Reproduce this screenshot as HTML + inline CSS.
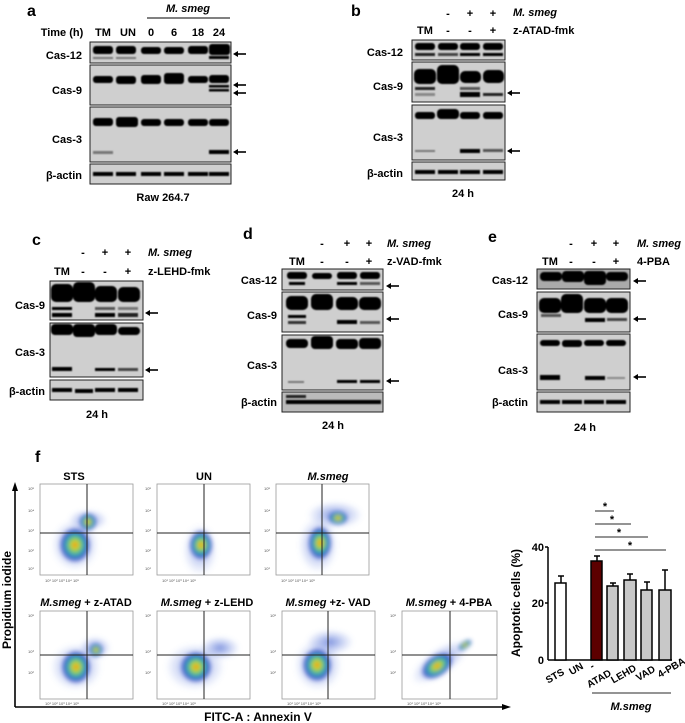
<!DOCTYPE html>
<html><head><meta charset="utf-8"><style>
body{margin:0;background:#fff}
svg{display:block;font-family:"Liberation Sans",Arial,sans-serif}
.l{font-weight:bold;font-size:11px}
.h{font-weight:bold;font-size:16px}
.i{font-style:italic;font-weight:bold;font-size:11px}
.t{font-size:4px;fill:#555}
.bx{font-weight:bold;font-size:10px}
</style></head><body>
<svg width="685" height="723" viewBox="0 0 685 723" xmlns="http://www.w3.org/2000/svg">
<defs>
<filter id="bl" x="-20%" y="-50%" width="140%" height="200%"><feGaussianBlur stdDeviation="0.9"/></filter>
<filter id="fb" x="-50%" y="-50%" width="200%" height="200%"><feGaussianBlur stdDeviation="2"/></filter>
<radialGradient id="rg"><stop offset="0" stop-color="#e02818"/><stop offset="0.15" stop-color="#f0d020"/><stop offset="0.35" stop-color="#80d050"/><stop offset="0.55" stop-color="#30a8c0"/><stop offset="0.78" stop-color="#2038b8" stop-opacity=".8"/><stop offset="1" stop-color="#3050d0" stop-opacity="0"/></radialGradient>
<radialGradient id="rb"><stop offset="0" stop-color="#2848c8" stop-opacity=".6"/><stop offset="1" stop-color="#6080e0" stop-opacity="0"/></radialGradient>
<g id="ar"><line x1="3" y1="0" x2="13" y2="0" stroke="#000" stroke-width="1.6"/><polygon points="0,0 5,-3 5,3" fill="#000"/></g>
</defs>

<!-- Panel a -->
<text x="27" y="16" class="h">a</text>
<text x="188" y="12" class="i" text-anchor="middle">M. smeg</text>
<line x1="147" y1="18" x2="230" y2="18" stroke="#000"/>
<g class="l" text-anchor="middle"><text x="62" y="36">Time (h)</text><text x="103" y="36">TM</text><text x="128" y="36">UN</text><text x="151" y="36">0</text><text x="174" y="36">6</text><text x="198" y="36">18</text><text x="219" y="36">24</text></g>
<g class="l" text-anchor="end"><text x="82" y="59">Cas-12</text><text x="82" y="94">Cas-9</text><text x="82" y="143">Cas-3</text><text x="82" y="179">β-actin</text></g>
<g fill="#cfcfcf" stroke="#222"><rect x="90" y="42" width="141" height="21"/><rect x="90" y="65" width="141" height="40"/><rect x="90" y="107" width="141" height="55"/><rect x="90" y="164" width="141" height="20"/></g>
<g filter="url(#bl)" fill="#000">
<rect x="93" y="46" width="20" height="8" rx="3"/><rect x="116" y="46" width="20" height="8" rx="3"/><rect x="141" y="47" width="20" height="7" rx="3"/><rect x="164" y="47" width="20" height="7" rx="3"/><rect x="188" y="46" width="20" height="8" rx="3"/><rect x="209" y="44" width="21" height="11" rx="3"/>
<rect x="93" y="57" width="20" height="2" fill="#777"/><rect x="116" y="57" width="20" height="2" fill="#777"/><rect x="209" y="56" width="20" height="3"/>
<rect x="93" y="76" width="20" height="7" rx="3"/><rect x="116" y="76" width="20" height="8" rx="3"/><rect x="141" y="75" width="20" height="9" rx="3"/><rect x="164" y="73" width="20" height="11" rx="3"/><rect x="188" y="76" width="20" height="7" rx="3"/><rect x="209" y="75" width="20" height="8" rx="3"/>
<rect x="209" y="85" width="20" height="2.5"/><rect x="209" y="89" width="20" height="2.5"/>
<rect x="93" y="118" width="20" height="8" rx="3"/><rect x="116" y="117" width="22" height="10" rx="3"/><rect x="141" y="119" width="20" height="7" rx="3"/><rect x="164" y="119" width="20" height="7" rx="3"/><rect x="188" y="119" width="20" height="7" rx="3"/><rect x="209" y="119" width="20" height="7" rx="3"/>
<rect x="93" y="151" width="20" height="3" fill="#777"/><rect x="209" y="150" width="20" height="4"/>
<rect x="93" y="172" width="20" height="4"/><rect x="116" y="172" width="20" height="4"/><rect x="141" y="172" width="20" height="4"/><rect x="164" y="172" width="20" height="4"/><rect x="188" y="172" width="20" height="4"/><rect x="209" y="172" width="20" height="4"/>
</g>
<use href="#ar" x="233" y="54"/><use href="#ar" x="233" y="85"/><use href="#ar" x="233" y="93"/><use href="#ar" x="233" y="152"/>
<text x="163" y="201" class="l" text-anchor="middle">Raw 264.7</text>

<!-- Panel b -->
<text x="351" y="16" class="h">b</text>
<g class="l" text-anchor="middle"><text x="448" y="17">-</text><text x="470" y="17">+</text><text x="493" y="17">+</text><text x="425" y="34">TM</text><text x="448" y="34">-</text><text x="470" y="34">-</text><text x="493" y="34">+</text></g>
<text x="513" y="16" class="i">M. smeg</text><text x="513" y="34" class="l">z-ATAD-fmk</text>
<g class="l" text-anchor="end"><text x="403" y="56">Cas-12</text><text x="403" y="90">Cas-9</text><text x="403" y="141">Cas-3</text><text x="403" y="177">β-actin</text></g>
<g fill="#cfcfcf" stroke="#222"><rect x="412" y="40" width="93" height="20"/><rect x="412" y="62" width="93" height="40"/><rect x="412" y="105" width="93" height="55"/><rect x="412" y="162" width="93" height="18"/></g>
<g filter="url(#bl)" fill="#000">
<rect x="415" y="43" width="20" height="7" rx="3"/><rect x="438" y="43" width="20" height="7" rx="3"/><rect x="460" y="43" width="20" height="7" rx="3"/><rect x="483" y="43" width="20" height="7" rx="3"/>
<rect x="415" y="53" width="20" height="3" fill="#222"/><rect x="438" y="53" width="20" height="3" fill="#444"/><rect x="460" y="53" width="20" height="3"/><rect x="483" y="53" width="20" height="3"/>
<rect x="414" y="69" width="22" height="15" rx="5"/><rect x="437" y="65" width="22" height="19" rx="5"/><rect x="460" y="71" width="21" height="12" rx="5"/><rect x="483" y="70" width="21" height="13" rx="5"/>
<rect x="415" y="87" width="20" height="3" fill="#222"/><rect x="460" y="87" width="20" height="3" fill="#555"/><rect x="415" y="93" width="20" height="3" fill="#888"/><rect x="460" y="92" width="20" height="5"/><rect x="483" y="93" width="20" height="3" fill="#222"/>
<rect x="415" y="112" width="20" height="7" rx="3"/><rect x="437" y="109" width="22" height="10" rx="4"/><rect x="460" y="112" width="20" height="7" rx="3"/><rect x="483" y="112" width="20" height="7" rx="3"/>
<rect x="415" y="150" width="20" height="2" fill="#777"/><rect x="460" y="149" width="20" height="4"/><rect x="483" y="149" width="20" height="3" fill="#555"/>
<rect x="415" y="170" width="20" height="4"/><rect x="438" y="170" width="20" height="4"/><rect x="460" y="170" width="20" height="4"/><rect x="483" y="170" width="20" height="4"/>
</g>
<use href="#ar" x="507" y="93"/><use href="#ar" x="507" y="151"/>
<text x="463" y="197" class="l" text-anchor="middle">24 h</text>

<!-- Panel c -->
<text x="32" y="245" class="h">c</text>
<g class="l" text-anchor="middle"><text x="83" y="256">-</text><text x="105" y="256">+</text><text x="128" y="256">+</text><text x="62" y="275">TM</text><text x="83" y="275">-</text><text x="105" y="275">-</text><text x="128" y="275">+</text></g>
<text x="148" y="256" class="i">M. smeg</text><text x="148" y="275" class="l">z-LEHD-fmk</text>
<g class="l" text-anchor="end"><text x="45" y="309">Cas-9</text><text x="45" y="356">Cas-3</text><text x="45" y="395">β-actin</text></g>
<g fill="#cfcfcf" stroke="#222"><rect x="50" y="281" width="93" height="39"/><rect x="50" y="323" width="93" height="54"/><rect x="50" y="380" width="93" height="20"/></g>
<g filter="url(#bl)" fill="#000">
<rect x="51" y="284" width="22" height="18" rx="5"/><rect x="73" y="282" width="22" height="20" rx="5"/><rect x="95" y="286" width="22" height="16" rx="5"/><rect x="118" y="287" width="22" height="15" rx="5"/>
<rect x="52" y="307" width="20" height="3"/><rect x="95" y="307" width="20" height="3" fill="#555"/><rect x="118" y="307" width="20" height="3" fill="#777"/>
<rect x="52" y="313" width="20" height="4"/><rect x="95" y="313" width="20" height="4"/><rect x="118" y="313" width="20" height="4" fill="#222"/>
<rect x="51" y="324" width="22" height="11" rx="4"/><rect x="73" y="324" width="22" height="13" rx="4"/><rect x="95" y="324" width="22" height="11" rx="4"/><rect x="118" y="327" width="22" height="8" rx="4"/>
<rect x="52" y="367" width="20" height="4"/><rect x="95" y="368" width="20" height="3"/><rect x="118" y="368" width="20" height="3" fill="#444"/>
<rect x="52" y="388" width="20" height="4"/><rect x="75" y="389" width="18" height="4"/><rect x="95" y="388" width="20" height="4"/><rect x="118" y="388" width="20" height="4"/>
</g>
<use href="#ar" x="145" y="313"/><use href="#ar" x="145" y="370"/>
<text x="97" y="418" class="l" text-anchor="middle">24 h</text>

<!-- Panel d -->
<text x="243" y="239" class="h">d</text>
<g class="l" text-anchor="middle"><text x="322" y="247">-</text><text x="347" y="247">+</text><text x="369" y="247">+</text><text x="297" y="265">TM</text><text x="322" y="265">-</text><text x="347" y="265">-</text><text x="369" y="265">+</text></g>
<text x="387" y="247" class="i">M. smeg</text><text x="387" y="265" class="l">z-VAD-fmk</text>
<g class="l" text-anchor="end"><text x="277" y="284">Cas-12</text><text x="277" y="319">Cas-9</text><text x="277" y="369">Cas-3</text><text x="277" y="406">β-actin</text></g>
<g fill="#cfcfcf" stroke="#222"><rect x="282" y="269" width="101" height="21"/><rect x="282" y="292" width="101" height="40"/><rect x="282" y="335" width="101" height="55"/><rect x="282" y="392" width="101" height="20" fill="#bbb"/></g>
<g filter="url(#bl)" fill="#000">
<rect x="287" y="272" width="20" height="7" rx="3"/><rect x="312" y="273" width="20" height="6" rx="3"/><rect x="337" y="272" width="20" height="7" rx="3"/><rect x="360" y="272" width="20" height="7" rx="3"/>
<rect x="289" y="282" width="16" height="3"/><rect x="337" y="282" width="20" height="3"/><rect x="360" y="282" width="20" height="3" fill="#555"/>
<rect x="286" y="296" width="22" height="14" rx="5"/><rect x="311" y="294" width="22" height="16" rx="5"/><rect x="336" y="297" width="22" height="13" rx="5"/><rect x="359" y="297" width="22" height="13" rx="5"/>
<rect x="288" y="315" width="18" height="3"/><rect x="288" y="321" width="18" height="3" fill="#333"/><rect x="337" y="320" width="20" height="4"/><rect x="360" y="321" width="20" height="3" fill="#555"/>
<rect x="286" y="339" width="22" height="9" rx="4"/><rect x="311" y="336" width="22" height="13" rx="4"/><rect x="336" y="339" width="22" height="10" rx="4"/><rect x="359" y="338" width="22" height="11" rx="4"/>
<rect x="288" y="381" width="16" height="2" fill="#777"/><rect x="337" y="380" width="20" height="3"/><rect x="360" y="380" width="20" height="3"/>
<rect x="286" y="395" width="20" height="3" fill="#222"/><rect x="286" y="400" width="95" height="4"/>
</g>
<use href="#ar" x="386" y="286"/><use href="#ar" x="386" y="319"/><use href="#ar" x="386" y="381"/>
<text x="333" y="429" class="l" text-anchor="middle">24 h</text>

<!-- Panel e -->
<text x="488" y="242" class="h">e</text>
<g class="l" text-anchor="middle"><text x="571" y="247">-</text><text x="594" y="247">+</text><text x="616" y="247">+</text><text x="550" y="265">TM</text><text x="571" y="265">-</text><text x="594" y="265">-</text><text x="616" y="265">+</text></g>
<text x="637" y="247" class="i">M. smeg</text><text x="637" y="265" class="l">4-PBA</text>
<g class="l" text-anchor="end"><text x="528" y="284">Cas-12</text><text x="528" y="318">Cas-9</text><text x="528" y="374">Cas-3</text><text x="528" y="406">β-actin</text></g>
<g fill="#cfcfcf" stroke="#222"><rect x="537" y="269" width="93" height="20" fill="#aaa"/><rect x="537" y="292" width="93" height="40"/><rect x="537" y="334" width="93" height="56"/><rect x="537" y="392" width="93" height="20"/></g>
<g filter="url(#bl)" fill="#000">
<rect x="540" y="272" width="22" height="9" rx="4"/><rect x="562" y="271" width="22" height="11" rx="4"/><rect x="584" y="271" width="22" height="14" rx="4"/><rect x="606" y="272" width="22" height="9" rx="4"/>
<rect x="539" y="298" width="22" height="15" rx="5"/><rect x="561" y="294" width="22" height="19" rx="5"/><rect x="584" y="298" width="22" height="15" rx="5"/><rect x="606" y="298" width="22" height="15" rx="5"/>
<rect x="541" y="314" width="20" height="3" fill="#555"/><rect x="585" y="318" width="20" height="4"/><rect x="607" y="318" width="20" height="3" fill="#444"/>
<rect x="540" y="340" width="20" height="6" rx="3"/><rect x="562" y="340" width="20" height="7" rx="3"/><rect x="584" y="340" width="20" height="6" rx="3"/><rect x="606" y="340" width="20" height="6" rx="3"/>
<rect x="540" y="375" width="20" height="5"/><rect x="585" y="376" width="20" height="4"/><rect x="607" y="377" width="18" height="2" fill="#888"/>
<rect x="540" y="400" width="20" height="4"/><rect x="562" y="400" width="20" height="4"/><rect x="584" y="400" width="20" height="4"/><rect x="606" y="400" width="20" height="4"/>
</g>
<use href="#ar" x="633" y="281"/><use href="#ar" x="633" y="319"/><use href="#ar" x="633" y="377"/>
<text x="585" y="431" class="l" text-anchor="middle">24 h</text>

<!-- Panel f -->
<text x="35" y="462" class="h">f</text>
<line x1="15" y1="707" x2="15" y2="488" stroke="#000" stroke-width="1.6"/><polygon points="15,482 12,491 18,491" fill="#000"/>
<line x1="15" y1="707" x2="505" y2="707" stroke="#000" stroke-width="1.6"/><polygon points="511,707 502,704 502,710" fill="#000"/>
<text transform="translate(11,600) rotate(-90)" class="l" text-anchor="middle" style="font-size:12px">Propidium iodide</text>
<text x="258" y="721" class="l" text-anchor="middle" style="font-size:12px">FITC-A : Annexin V</text>

<!-- flow boxes -->
<g fill="#fff" stroke="#999" stroke-width="0.8">
<rect x="40" y="484" width="93" height="91"/><rect x="157" y="484" width="93" height="91"/><rect x="276" y="484" width="93" height="91"/>
<rect x="40" y="611" width="93" height="88"/><rect x="157" y="611" width="93" height="88"/><rect x="282" y="611" width="93" height="88"/><rect x="402" y="611" width="95" height="88"/>
</g>
<g class="l" text-anchor="middle"><text x="74" y="480">STS</text><text x="204" y="480">UN</text><text x="86" y="606"><tspan font-style="italic">M.smeg</tspan> + z-ATAD</text><text x="207" y="606"><tspan font-style="italic">M.smeg</tspan> + z-LEHD</text><text x="328" y="606"><tspan font-style="italic">M.smeg</tspan> +z- VAD</text><text x="449" y="606"><tspan font-style="italic">M.smeg</tspan> + 4-PBA</text></g>
<text x="328" y="480" class="i" text-anchor="middle">M.smeg</text>
<!-- clusters -->
<g filter="url(#fb)">
<ellipse cx="88" cy="520" rx="20" ry="11" fill="url(#rb)"/><ellipse cx="88" cy="522" rx="9" ry="9" fill="url(#rg)"/>
<ellipse cx="75" cy="545" rx="24" ry="26" fill="url(#rb)"/><ellipse cx="75" cy="545" rx="16" ry="18" fill="url(#rg)"/>
<ellipse cx="200" cy="550" rx="18" ry="26" fill="url(#rb)" opacity=".8"/><ellipse cx="201" cy="545" rx="12" ry="15" fill="url(#rg)"/>
<ellipse cx="335" cy="515" rx="28" ry="14" fill="url(#rb)"/><ellipse cx="318" cy="545" rx="20" ry="28" fill="url(#rb)"/><ellipse cx="320" cy="543" rx="12" ry="17" fill="url(#rg)"/><ellipse cx="338" cy="518" rx="10" ry="7" fill="url(#rg)"/>
<ellipse cx="95" cy="648" rx="16" ry="12" fill="url(#rb)"/><ellipse cx="76" cy="667" rx="26" ry="24" fill="url(#rb)"/><ellipse cx="76" cy="667" rx="15" ry="17" fill="url(#rg)"/><ellipse cx="96" cy="650" rx="7" ry="7" fill="url(#rg)"/>
<ellipse cx="220" cy="648" rx="20" ry="12" fill="url(#rb)"/><ellipse cx="195" cy="667" rx="30" ry="24" fill="url(#rb)"/><ellipse cx="196" cy="667" rx="16" ry="16" fill="url(#rg)"/>
<ellipse cx="330" cy="642" rx="24" ry="13" fill="url(#rb)"/><ellipse cx="318" cy="665" rx="24" ry="26" fill="url(#rb)"/><ellipse cx="317" cy="665" rx="15" ry="17" fill="url(#rg)"/>
<ellipse cx="440" cy="662" rx="34" ry="14" fill="url(#rb)" transform="rotate(-35 440 662)"/><ellipse cx="437" cy="666" rx="18" ry="11" fill="url(#rg)" transform="rotate(-35 437 666)"/><ellipse cx="465" cy="645" rx="8" ry="4" fill="url(#rg)" transform="rotate(-35 465 645)"/>
</g>
<!-- quadrant lines -->
<g stroke="#222" stroke-width="1">
<line x1="87" y1="484" x2="87" y2="575"/><line x1="40" y1="533" x2="133" y2="533"/>
<line x1="204" y1="484" x2="204" y2="575"/><line x1="157" y1="533" x2="250" y2="533"/>
<line x1="322" y1="484" x2="322" y2="575"/><line x1="276" y1="533" x2="369" y2="533"/>
<line x1="87" y1="611" x2="87" y2="699"/><line x1="40" y1="655" x2="133" y2="655"/>
<line x1="204" y1="611" x2="204" y2="699"/><line x1="157" y1="655" x2="250" y2="655"/>
<line x1="328" y1="611" x2="328" y2="699"/><line x1="282" y1="655" x2="375" y2="655"/>
<line x1="450" y1="611" x2="450" y2="699"/><line x1="402" y1="655" x2="497" y2="655"/>
</g>
<g class="t">
<text x="28" y="490">10⁵</text><text x="28" y="512">10⁴</text><text x="28" y="532">10³</text><text x="28" y="552">10²</text><text x="28" y="570">10¹</text>
<text x="145" y="490">10⁵</text><text x="145" y="512">10⁴</text><text x="145" y="532">10³</text><text x="145" y="552">10²</text><text x="145" y="570">10¹</text>
<text x="264" y="490">10⁵</text><text x="264" y="512">10⁴</text><text x="264" y="532">10³</text><text x="264" y="552">10²</text><text x="264" y="570">10¹</text>
<text x="28" y="617">10⁵</text><text x="28" y="653">10³</text><text x="28" y="674">10²</text><text x="145" y="617">10⁵</text><text x="145" y="653">10³</text><text x="145" y="674">10²</text>
<text x="270" y="617">10⁵</text><text x="270" y="653">10³</text><text x="270" y="674">10²</text><text x="390" y="617">10⁵</text><text x="390" y="653">10³</text><text x="390" y="674">10²</text>
<text x="45" y="582">10¹  10²  10³  10⁴  10⁵</text><text x="162" y="582">10¹  10²  10³  10⁴  10⁵</text><text x="281" y="582">10¹  10²  10³  10⁴  10⁵</text>
<text x="45" y="705">10¹  10²  10³  10⁴  10⁵</text><text x="162" y="705">10¹  10²  10³  10⁴  10⁵</text><text x="287" y="705">10¹  10²  10³  10⁴  10⁵</text><text x="407" y="705">10¹  10²  10³  10⁴  10⁵</text>
</g>

<!-- bar chart -->
<text transform="translate(520,603) rotate(-90)" class="l" text-anchor="middle" style="font-size:12px">Apoptotic cells (%)</text>
<g class="l" text-anchor="end"><text x="544" y="551">40</text><text x="544" y="607">20</text><text x="544" y="664">0</text></g>
<g stroke="#000" stroke-width="1.5" fill="none"><line x1="548" y1="547" x2="548" y2="660"/><line x1="548" y1="660" x2="672" y2="660"/><line x1="545" y1="547" x2="548" y2="547"/><line x1="545" y1="603" x2="548" y2="603"/></g>
<g stroke="#000" stroke-width="1.5">
<line x1="561" y1="583" x2="561" y2="576"/><line x1="558" y1="576" x2="564" y2="576"/>
<line x1="597" y1="561" x2="597" y2="556"/><line x1="594" y1="556" x2="600" y2="556"/>
<line x1="613" y1="586" x2="613" y2="583"/><line x1="610" y1="583" x2="616" y2="583"/>
<line x1="630" y1="580" x2="630" y2="574"/><line x1="627" y1="574" x2="633" y2="574"/>
<line x1="647" y1="590" x2="647" y2="582"/><line x1="644" y1="582" x2="650" y2="582"/>
<line x1="665" y1="590" x2="665" y2="570"/><line x1="662" y1="570" x2="668" y2="570"/>
<rect x="555" y="583" width="11" height="77" fill="#fff"/>
<rect x="591" y="561" width="11" height="99" fill="#5c0000"/>
<rect x="607" y="586" width="11" height="74" fill="#c8c8c8"/>
<rect x="624" y="580" width="12" height="80" fill="#c8c8c8"/>
<rect x="641" y="590" width="11" height="70" fill="#c8c8c8"/>
<rect x="659" y="590" width="12" height="70" fill="#c8c8c8"/>
</g>
<g stroke="#555" stroke-width="1.2"><line x1="595" y1="511" x2="614" y2="511"/><line x1="595" y1="524" x2="631" y2="524"/><line x1="595" y1="537" x2="648" y2="537"/><line x1="595" y1="550" x2="666" y2="550"/><line x1="592" y1="693" x2="671" y2="693"/></g>
<g class="l" text-anchor="middle"><text x="605" y="510">*</text><text x="612" y="523">*</text><text x="619" y="536">*</text><text x="630" y="549">*</text></g>
<g class="bx" text-anchor="end">
<text transform="translate(565,674) rotate(-30)">STS</text>
<text transform="translate(584,668) rotate(-30)">UN</text>
<text transform="translate(595,668) rotate(-30)">-</text>
<text transform="translate(612,675) rotate(-30)">ATAD</text>
<text transform="translate(637,670) rotate(-30)">LEHD</text>
<text transform="translate(656,671) rotate(-30)">VAD</text>
<text transform="translate(686,663) rotate(-30)">4-PBA</text>
</g>
<text x="631" y="710" class="i" text-anchor="middle">M.smeg</text>
</svg>
</body></html>
